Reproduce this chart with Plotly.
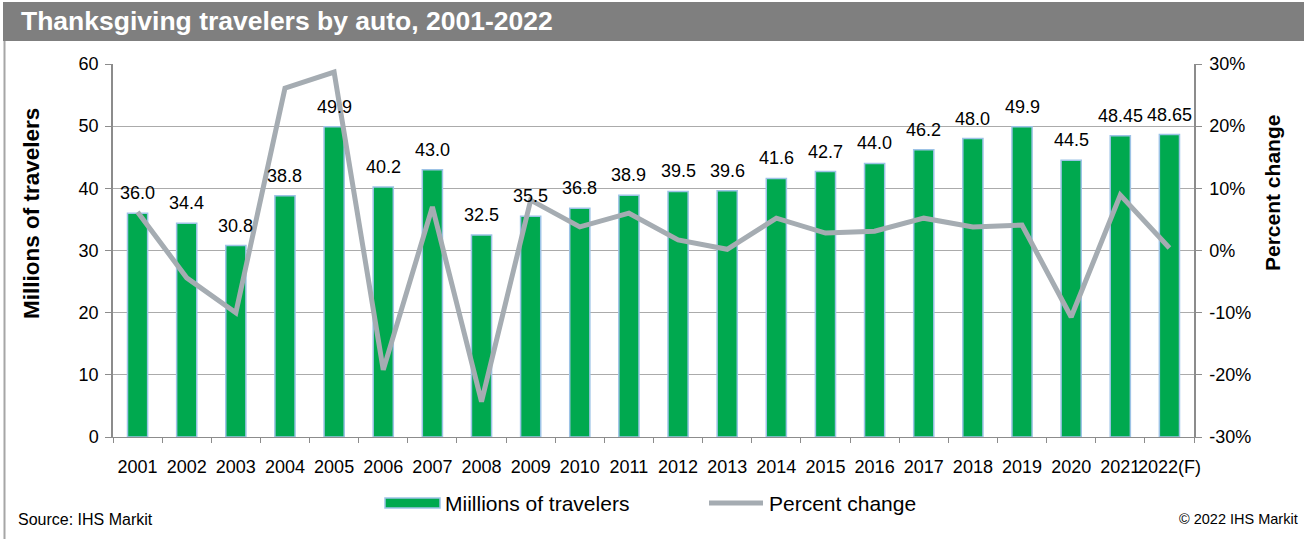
import plotly.graph_objects as go

# Thanksgiving auto travel volumes and year-over-year change
years = ["2001", "2002", "2003", "2004", "2005", "2006", "2007", "2008", "2009", "2010", "2011",
         "2012", "2013", "2014", "2015", "2016", "2017", "2018", "2019", "2020", "2021", "2022(F)"]
travelers = [36.0, 34.4, 30.8, 38.8, 49.9, 40.2, 43.0, 32.5, 35.5, 36.8, 38.9,
             39.5, 39.6, 41.6, 42.7, 44.0, 46.2, 48.0, 49.9, 44.5, 48.45, 48.65]
labels = ["36.0", "34.4", "30.8", "38.8", "49.9", "40.2", "43.0", "32.5", "35.5", "36.8", "38.9",
          "39.5", "39.6", "41.6", "42.7", "44.0", "46.2", "48.0", "49.9", "44.5", "48.45", "48.65"]
pct_change = [6.2, -4.4, -10.0, 26.1, 28.7, -19.2, 7.0, -24.3, 8.1, 3.8, 6.0,
              1.7, 0.2, 5.2, 2.8, 3.1, 5.2, 3.8, 4.1, -10.7, 8.9, 0.4]
left_ticks = [0, 10, 20, 30, 40, 50, 60]
right_ticks = [-30, -20, -10, 0, 10, 20, 30]

W, H = 1304, 539
L, R, T, B = 113, 1194, 64, 437

def px(x):
    return (x - L) / (R - L)

def py(y):
    return (B - y) / (B - T)

GREEN = "#00A94F"
OUTLINE = "#9DC3E6"
LINE_GRAY = "#A5ACB2"
FONT = "Liberation Sans, Arial, sans-serif"

fig = go.Figure()
fig.add_trace(go.Bar(
    x=years, y=travelers, name="Miillions of travelers",
    marker=dict(color=GREEN, line=dict(color=OUTLINE, width=1.5)),
    width=0.41, showlegend=False, hoverinfo="x+y",
))
fig.add_trace(go.Scatter(
    x=years, y=pct_change, name="Percent change", yaxis="y2", mode="lines",
    line=dict(color=LINE_GRAY, width=5), showlegend=False,
))

annotations = []
# value labels above each bar (category index keeps numeric-looking names unambiguous)
for i, (v, t) in enumerate(zip(travelers, labels)):
    annotations.append(dict(x=i, y=v, xref="x", yref="y", text=t, showarrow=False,
                            yanchor="bottom", yshift=8,
                            font=dict(family=FONT, size=18, color="#000000")))

# title bar, axis titles, legend, footer
annotations += [
    dict(x=px(19), y=py(21), xref="paper", yref="paper", text="<b>Thanksgiving travelers by auto, 2001-2022</b>",
         showarrow=False, xanchor="left", yanchor="middle", font=dict(family=FONT, size=26.5, color="#FFFFFF")),
    dict(x=px(31), y=py(214), xref="paper", yref="paper", text="<b>Millions of travelers</b>",
         showarrow=False, textangle=-90, xanchor="center", yanchor="middle",
         font=dict(family=FONT, size=22.5, color="#000000")),
    dict(x=px(1272), y=py(193), xref="paper", yref="paper", text="<b>Percent change</b>",
         showarrow=False, textangle=-90, xanchor="center", yanchor="middle",
         font=dict(family=FONT, size=21, color="#000000")),
    dict(x=px(443), y=py(503), xref="paper", yref="paper", text="Miillions of travelers",
         showarrow=False, xanchor="left", yanchor="middle", font=dict(family=FONT, size=21, color="#000000")),
    dict(x=px(767), y=py(503), xref="paper", yref="paper", text="Percent change",
         showarrow=False, xanchor="left", yanchor="middle", font=dict(family=FONT, size=21, color="#000000")),
    dict(x=px(16), y=py(519), xref="paper", yref="paper", text="Source: IHS Markit",
         showarrow=False, xanchor="left", yanchor="middle", font=dict(family=FONT, size=16, color="#000000")),
    dict(x=px(1300), y=py(519), xref="paper", yref="paper", text="© 2022 IHS Markit",
         showarrow=False, xanchor="right", yanchor="middle", font=dict(family=FONT, size=14.5, color="#000000")),
]

shapes = [
    dict(type="rect", xref="paper", yref="paper", x0=px(3), x1=px(W), y0=py(41), y1=py(2),
         fillcolor="#7F7F7F", line=dict(width=0), layer="below"),
    dict(type="line", xref="paper", yref="paper", x0=px(4.5), x1=px(4.5), y0=py(41), y1=py(H),
         line=dict(color="#A6A6A6", width=2)),
    dict(type="rect", xref="paper", yref="paper", x0=px(385), x1=px(440), y0=py(508), y1=py(498),
         fillcolor=GREEN, line=dict(color=OUTLINE, width=1.5)),
    dict(type="line", xref="paper", yref="paper", x0=px(709), x1=px(763), y0=py(503), y1=py(503),
         line=dict(color=LINE_GRAY, width=5)),
]

fig.update_layout(
    width=W, height=H,
    margin=dict(l=L, r=W - R, t=T, b=H - B),
    paper_bgcolor="#FFFFFF", plot_bgcolor="#FFFFFF",
    font=dict(family=FONT, size=18, color="#000000"),
    bargap=0.59,
    xaxis=dict(type="category", tickson="boundaries", ticks="outside", ticklen=5, tickcolor="#8C8C8C",
               showline=True, linecolor="#8C8C8C", linewidth=1, showgrid=False, tickangle=0,
               ticklabelstandoff=13, tickfont=dict(size=18), range=[-0.5, len(years) - 0.5]),
    yaxis=dict(range=[0, 60], tickvals=left_ticks, ticks="outside", ticklen=6, tickcolor="#8C8C8C",
               showline=True, linecolor="#8C8C8C", linewidth=1.5, showgrid=True, gridcolor="#ABABAB",
               gridwidth=1, zeroline=False, ticklabelstandoff=3, tickfont=dict(size=18)),
    yaxis2=dict(range=[-30, 30], tickvals=right_ticks, ticktext=[f"{v}%" for v in right_ticks],
                overlaying="y", side="right", ticks="outside", ticklen=6, tickcolor="#8C8C8C",
                showline=True, linecolor="#8C8C8C", linewidth=1.5, showgrid=False, zeroline=False,
                ticklabelstandoff=4, tickfont=dict(size=18)),
    annotations=annotations, shapes=shapes,
)

fig.write_html("out.html")
